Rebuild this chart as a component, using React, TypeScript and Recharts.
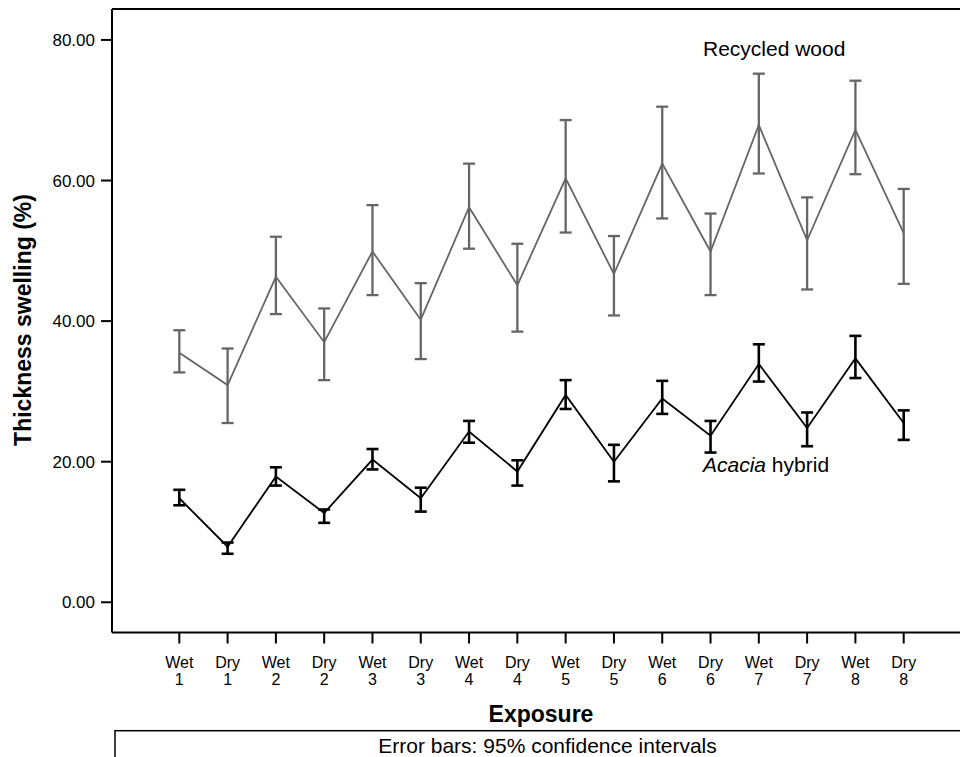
import { LineChart, Line, XAxis, YAxis, ErrorBar, ReferenceLine } from "recharts"

// exposure cycles, one entry per x position
const exposures = [
  "Wet 1", "Dry 1", "Wet 2", "Dry 2", "Wet 3", "Dry 3", "Wet 4", "Dry 4",
  "Wet 5", "Dry 5", "Wet 6", "Dry 6", "Wet 7", "Dry 7", "Wet 8", "Dry 8",
]

// Recycled wood: mean and 95% CI bounds
const recycledMean = [35.5, 30.9, 46.3, 37.0, 49.9, 40.2, 56.2, 45.1, 60.3, 46.7, 62.4, 49.9, 67.9, 51.5, 67.2, 52.5]
const recycledLow = [32.7, 25.5, 41.0, 31.6, 43.7, 34.6, 50.3, 38.5, 52.6, 40.8, 54.6, 43.7, 61.0, 44.5, 60.9, 45.3]
const recycledHigh = [38.7, 36.1, 52.0, 41.8, 56.5, 45.4, 62.4, 51.0, 68.6, 52.1, 70.5, 55.3, 75.2, 57.6, 74.2, 58.8]

// Acacia hybrid: mean and 95% CI bounds
const acaciaMean = [14.8, 7.9, 17.9, 12.7, 20.3, 14.8, 24.3, 18.6, 29.5, 20.0, 29.0, 23.7, 33.9, 24.8, 34.7, 25.5]
const acaciaLow = [13.8, 6.9, 16.6, 11.3, 18.9, 12.9, 22.7, 16.6, 27.5, 17.2, 26.8, 21.3, 31.4, 22.2, 31.9, 23.1]
const acaciaHigh = [16.0, 8.5, 19.2, 13.2, 21.8, 16.3, 25.8, 20.2, 31.6, 22.4, 31.5, 25.8, 36.7, 27.0, 37.9, 27.3]

const yTicks = [0, 20, 40, 60, 80]
const yDomain = [-4.3, 84.4]

const data = exposures.map((name, i) => ({
  name,
  recycled: recycledMean[i],
  recycledErr: [recycledMean[i] - recycledLow[i], recycledHigh[i] - recycledMean[i]],
  acacia: acaciaMean[i],
  acaciaErr: [acaciaMean[i] - acaciaLow[i], acaciaHigh[i] - acaciaMean[i]],
}))

const font = "'Liberation Sans', Arial, sans-serif"
const grey = "#666666"

// two-line tick: "Wet" / "1"
function ExposureTick({ x, y, payload }: any) {
  const [phase, cycle] = String(payload.value).split(" ")
  return (
    <g>
      <text x={x} y={y + 22.8} textAnchor="middle" fontSize={16} fill="#000" fontFamily={font}>
        {phase}
      </text>
      <text x={x} y={y + 39.8} textAnchor="middle" fontSize={16} fill="#000" fontFamily={font}>
        {cycle}
      </text>
    </g>
  )
}

export default function App() {
  return (
    <div style={{ position: "absolute", left: 0, top: 0, width: 960, height: 757, overflow: "hidden", background: "#fff" }}>
      <LineChart width={960} height={757} data={data} margin={{ top: 9, right: 0, bottom: 0, left: 0 }}>
        <XAxis
          dataKey="name"
          height={124.5}
          padding={{ left: 67.3, right: 56.3 }}
          stroke="#000"
          strokeWidth={2}
          tickSize={11}
          tickMargin={2}
          interval={0}
          tick={<ExposureTick />}
        />
        <YAxis
          type="number"
          domain={yDomain}
          ticks={yTicks}
          allowDataOverflow
          width={112}
          stroke="#000"
          strokeWidth={2}
          tickSize={11}
          tickMargin={6}
          tick={{ fontSize: 17, fill: "#000", fontFamily: font }}
          tickFormatter={(v: number) => v.toFixed(2)}
        />
        <ReferenceLine y={yDomain[1]} stroke="#000" strokeWidth={2} ifOverflow="visible" />
        <Line
          dataKey="recycled"
          type="linear"
          stroke={grey}
          strokeWidth={1.8}
          dot={false}
          isAnimationActive={false}
        >
          <ErrorBar dataKey="recycledErr" width={6} stroke={grey} strokeWidth={2.3} isAnimationActive={false} />
        </Line>
        <Line
          dataKey="acacia"
          type="linear"
          stroke="#000"
          strokeWidth={1.8}
          dot={false}
          isAnimationActive={false}
        >
          <ErrorBar dataKey="acaciaErr" width={6} stroke="#000" strokeWidth={2.6} isAnimationActive={false} />
        </Line>
      </LineChart>
      <svg width={960} height={757} style={{ position: "absolute", left: 0, top: 0, pointerEvents: "none" }} fontFamily={font}>
        <text x={31} y={320} transform="rotate(-90 31 320)" textAnchor="middle" fontSize={23} fontWeight="bold">
          Thickness swelling (%)
        </text>
        <text x={541} y={721.7} textAnchor="middle" fontSize={23} fontWeight="bold">
          Exposure
        </text>
        <text x={703} y={56} fontSize={21}>
          Recycled wood
        </text>
        <text x={703} y={471.7} fontSize={21}>
          <tspan fontStyle="italic">Acacia</tspan> hybrid
        </text>
        <rect x={115} y={730.7} width={900} height={60} fill="none" stroke="#000" strokeWidth={1.5} />
        <text x={547.5} y={753} textAnchor="middle" fontSize={21}>
          Error bars: 95% confidence intervals
        </text>
      </svg>
    </div>
  )
}
